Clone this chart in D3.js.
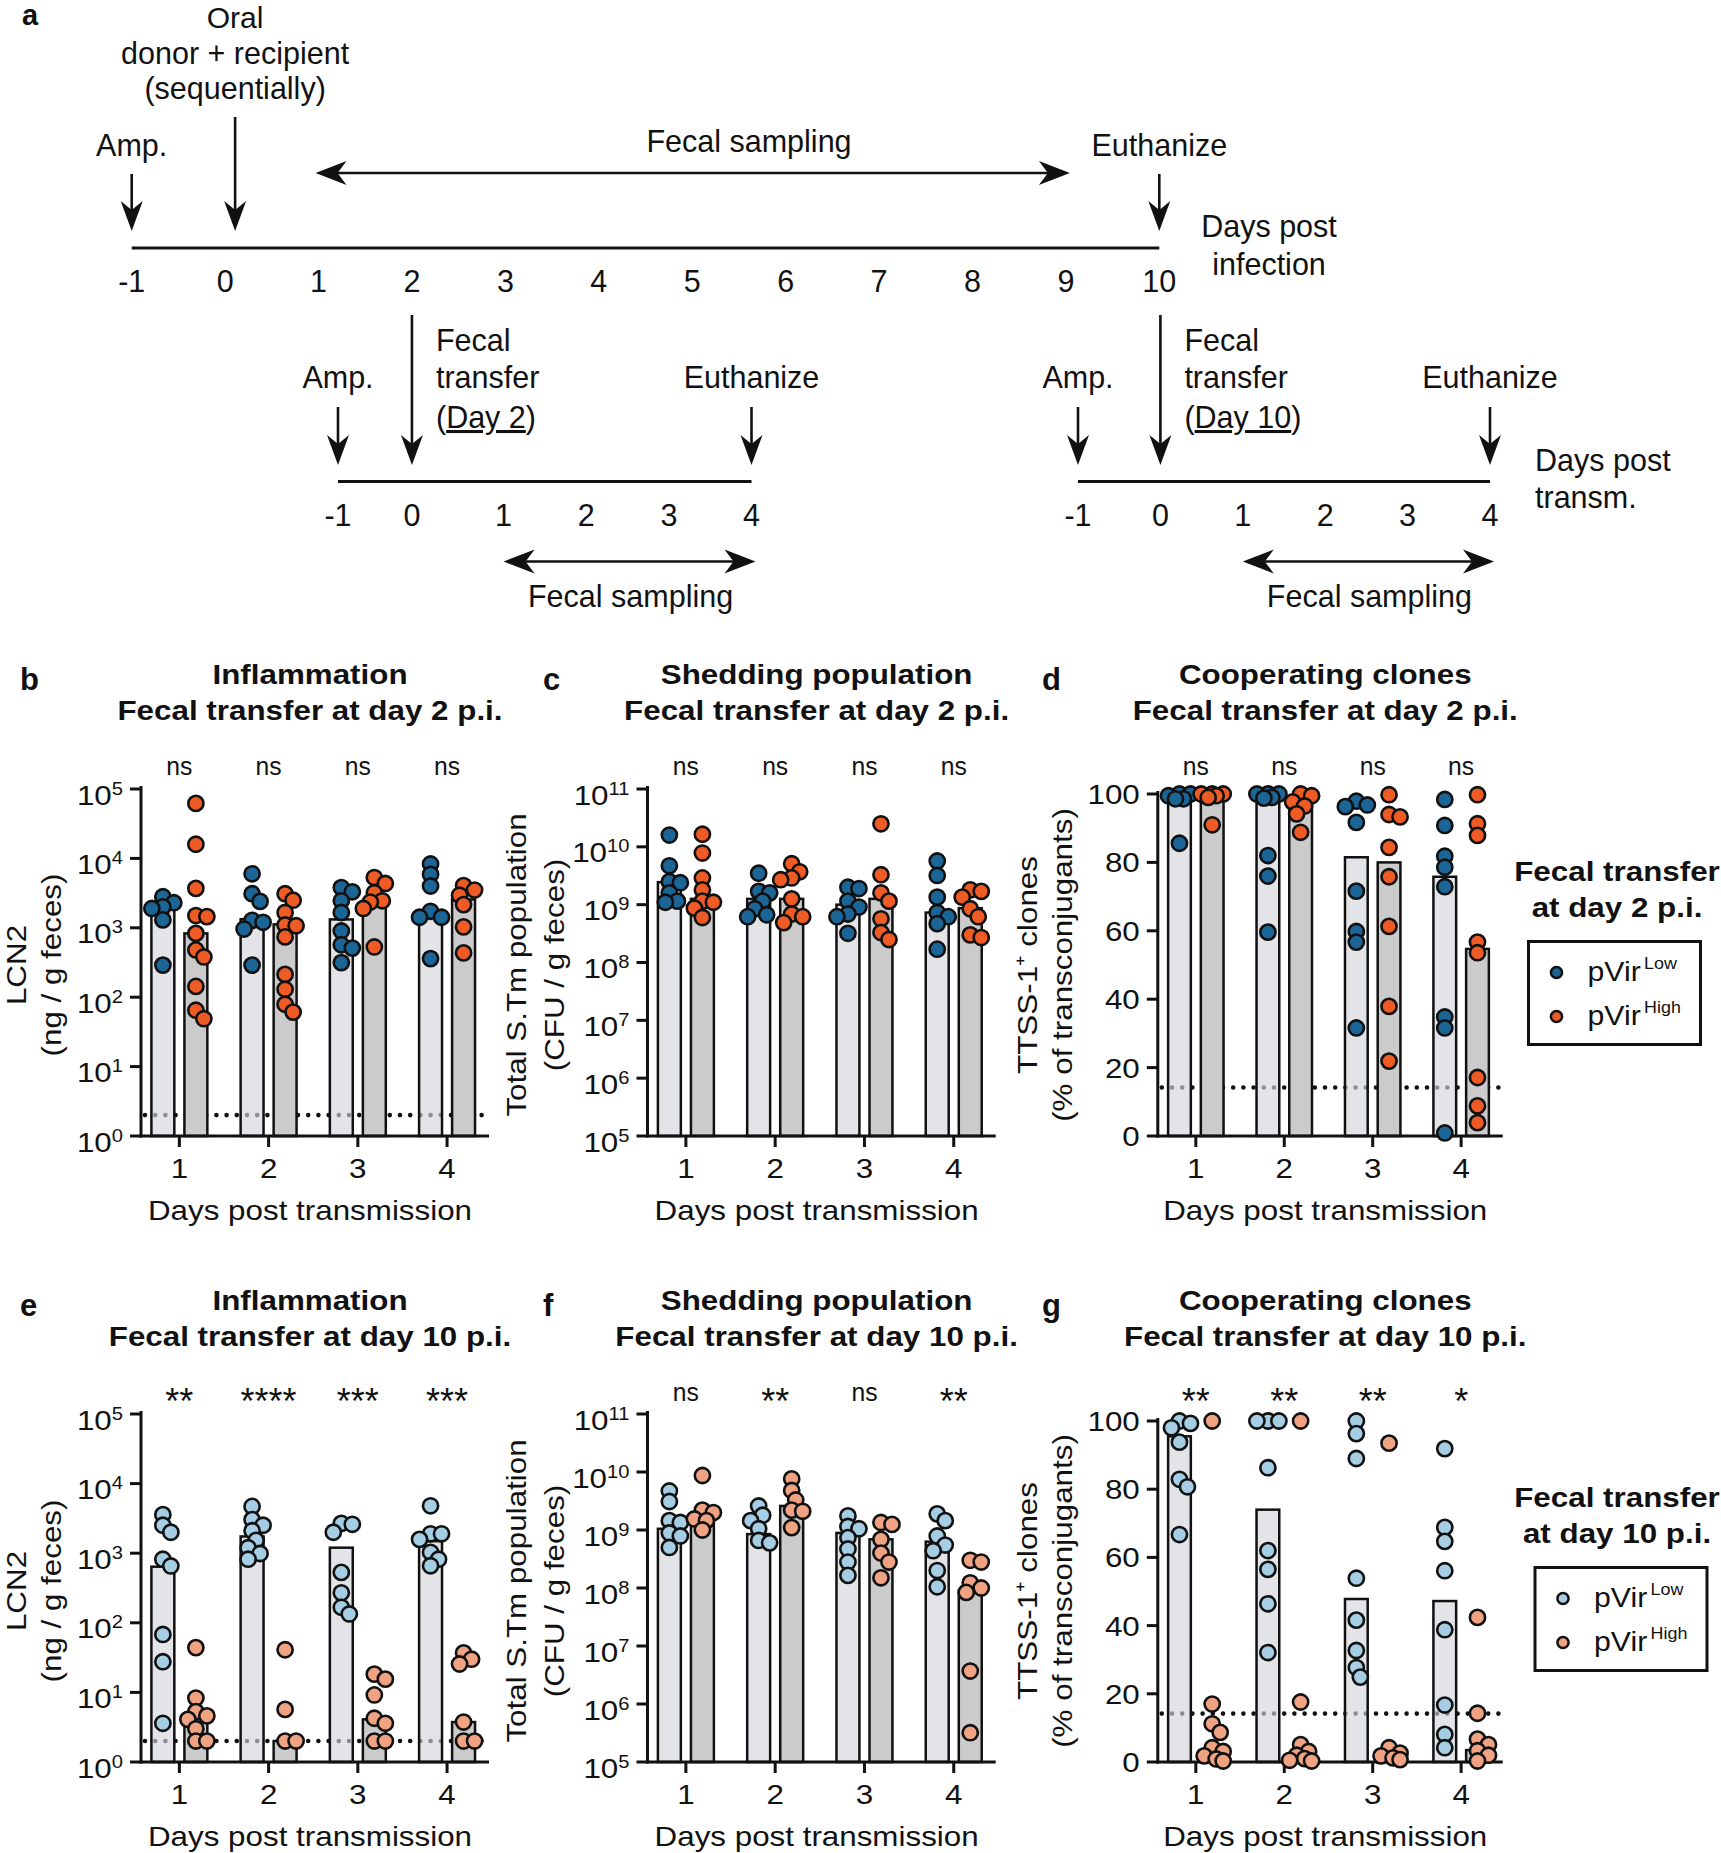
<!DOCTYPE html>
<html>
<head>
<meta charset="utf-8">
<script src="https://cdn.jsdelivr.net/npm/d3@7"></script>
<style>
body { margin: 0; background: #fff; }
text { font-family: "Liberation Sans", Arial, sans-serif; fill: #111; }
</style>
</head>
<body>
<script>
// ---------- data ----------
var days = [1, 2, 3, 4];
var mainDays = [-1, 0, 1, 2, 3, 4, 5, 6, 7, 8, 9, 10];
var subDays = [-1, 0, 1, 2, 3, 4];

// b: LCN2, transfer day 2
var bLow = [[2800, 2300, 2000, 1900, 1300, 290],
            [6000, 3100, 2400, 1280, 1200, 960, 290],
            [3800, 3300, 2450, 1660, 900, 570, 510, 315],
            [8300, 5900, 4000, 1730, 1420, 1420, 360]];
var bHigh = [[62000, 16000, 3700, 1500, 1450, 830, 480, 380, 143, 65, 49],
             [3100, 2500, 1660, 1100, 1070, 740, 213, 130, 79, 61],
             [5300, 4350, 3200, 2450, 2350, 1900, 530],
             [4050, 3500, 2950, 2160, 1030, 435]];
var bLowBar = [2050, 1330, 1320, 1560];
var bHighBar = [830, 1120, 2100, 2560];
var bSig = ["ns", "ns", "ns", "ns"];

// c: CFU, transfer day 2
var cLow = [[1.6e10, 4.7e9, 2.5e9, 2.4e9, 1.6e9, 1.15e9, 1.1e9],
            [3.5e9, 1.7e9, 1.6e9, 1.15e9, 8.5e8, 6.7e8, 6.2e8],
            [2e9, 1.9e9, 1.15e9, 9.1e8, 6.9e8, 6.2e8, 3.2e8],
            [5.7e9, 3.2e9, 1.35e9, 7.3e8, 6.2e8, 4.7e8, 1.7e8]];
var cHigh = [[1.65e10, 7.8e9, 2.9e9, 1.8e9, 1.15e9, 1.1e9, 8.7e8, 6e8],
             [5.1e9, 3.7e9, 2.9e9, 2.7e9, 1.26e9, 6.9e8, 6.2e8, 4.9e8],
             [2.5e10, 3.3e9, 1.6e9, 1.15e9, 5.7e8, 3.3e8, 2.5e8],
             [1.8e9, 1.7e9, 1.35e9, 8.5e8, 6.2e8, 3e8, 2.7e8]];
var cLowBar = [2.45e9, 1.26e9, 1.0e9, 7.3e8];
var cHighBar = [1.26e9, 1.26e9, 1.26e9, 8.7e8];
var cSig = ["ns", "ns", "ns", "ns"];

// d: % TTSS-1+, transfer day 2
var dLow = [[100, 100, 99.5, 98.6, 98.6, 85.6],
            [100, 100, 100, 99, 98.8, 82, 76, 59.6],
            [97.9, 96.8, 96.3, 91.7, 71.6, 59.8, 56.7, 31.6],
            [98.4, 90.8, 81.8, 78.6, 72.9, 34.8, 31.6, 0.9]];
var dHigh = [[100, 100, 100, 99.5, 99, 91],
             [100, 99.5, 97.7, 96.5, 94.2, 88.8],
             [99.8, 94, 93.3, 84.4, 75.8, 61.3, 37.9, 21.9],
             [99.8, 91.3, 87.9, 56.7, 53.6, 17.1, 8.8, 3.9]];
var dLowBar = [99.5, 99.5, 81.5, 75.8];
var dHighBar = [99.5, 97.9, 80, 54.7];
var dSig = ["ns", "ns", "ns", "ns"];

// e: LCN2, transfer day 10
var eLow = [[3580, 2520, 2000, 820, 656, 68, 27.6, 3.6],
            [4700, 3040, 2520, 2100, 1530, 1200, 990, 820],
            [2680, 2600, 2000, 530, 270, 167, 134],
            [4800, 1900, 1900, 1580, 1030, 820, 660]];
var eHigh = [[44, 8.3, 5.3, 4.6, 4.1, 3, 2, 2],
             [41, 5.7, 2, 2],
             [18.3, 15.5, 9.2, 4.25, 3.6, 2, 2],
             [37, 30, 25.6, 3.75, 2, 2]];
var eLowBar = [640, 1740, 1200, 1490];
var eHighBar = [4.1, 2, 4.1, 3.75];
var eSig = ["**", "****", "***", "***"];

// f: CFU, transfer day 10
var fLow = [[4.7e9, 3.1e9, 1.45e9, 1.35e9, 8.9e8, 7.9e8, 5e8],
            [2.6e9, 1.8e9, 1.45e9, 1.05e9, 6.6e8, 6e8],
            [1.75e9, 1.15e9, 1.05e9, 7.4e8, 4.7e8, 2.8e8, 1.65e8],
            [1.9e9, 1.45e9, 7.9e8, 5.5e8, 4.4e8, 2e8, 1.05e8]];
var fHigh = [[8.7e9, 2.2e9, 2e9, 1.55e9, 1.45e9, 1e9],
             [7.6e9, 4.8e9, 3.3e9, 2.2e9, 2.1e9, 1.1e9],
             [1.35e9, 1.25e9, 6.9e8, 4e8, 2.8e8, 1.5e8],
             [3e8, 2.8e8, 1.23e8, 1e8, 8.4e7, 3.7e6, 3.2e5]];
var fLowBar = [1.05e9, 8.5e8, 8.9e8, 6.3e8];
var fHighBar = [1.55e9, 2.6e9, 6.9e8, 9e7];
var fSig = ["ns", "**", "ns", "**"];

// g: % TTSS-1+, transfer day 10
var gLow = [[100, 99.3, 98, 93.8, 82.9, 80.7, 66.7],
            [100, 100, 100, 86.3, 62, 56.5, 46.4, 32.1],
            [100, 96.3, 89, 53.9, 41.6, 32.7, 27.7, 24.9],
            [91.9, 68.8, 64.7, 56.1, 38.8, 16.7, 8.1, 4.2]];
var gHigh = [[100, 17, 11.2, 8.7, 4.2, 3.1, 1.8, 0.9, 0.3],
             [100, 17.6, 5.1, 3.1, 2, 1, 0.5, 0.3],
             [93.5, 4.2, 2.6, 1.8, 1.2, 0.7],
             [42.4, 14.3, 6.7, 5.1, 3.3, 2, 0.3]];
var gLowBar = [95.5, 74, 47.8, 47.2];
var gHighBar = [1.5, 1.5, 1.5, 3.5];
var gSig = ["**", "**", "**", "*"];

var lodLCN2 = 2;
var lodClones = 14.2;

// ---------- setup ----------
var W = 1721, H = 1853;
var ink = "#111";
var svg = d3.select("body").append("svg").attr("width", W).attr("height", H);
svg.append("rect").attr("width", W).attr("height", H).attr("fill", "#fff");

function label(g, x, y, str, o) {
  o = o || {};
  return g.append("text")
    .attr("transform", "translate(" + x + "," + y + ")" + (o.rot ? " rotate(" + o.rot + ")" : "") + " scale(" + (o.sx || 1) + ",1)")
    .attr("text-anchor", o.anchor || "middle")
    .attr("font-size", o.size || 28)
    .attr("font-weight", o.bold ? "bold" : null)
    .text(str);
}

// ---------- panel a: timeline ----------
var gA = svg.append("g");
var TF = 30.5;

function arrowDown(x, y1, y2) {
  gA.append("line").attr("x1", x).attr("x2", x).attr("y1", y1).attr("y2", y2 - 14)
    .attr("stroke", ink).attr("stroke-width", 2.6);
  gA.append("path")
    .attr("d", "M" + x + "," + y2 + "L" + (x - 11) + "," + (y2 - 30) + "L" + x + "," + (y2 - 21) + "L" + (x + 11) + "," + (y2 - 30) + "Z")
    .attr("fill", ink);
}
function arrowBoth(x1, x2, y) {
  gA.append("line").attr("x1", x1 + 14).attr("x2", x2 - 14).attr("y1", y).attr("y2", y)
    .attr("stroke", ink).attr("stroke-width", 2.6);
  gA.append("path")
    .attr("d", "M" + x1 + "," + y + "L" + (x1 + 31) + "," + (y - 12) + "L" + (x1 + 22) + "," + y + "L" + (x1 + 31) + "," + (y + 12) + "Z")
    .attr("fill", ink);
  gA.append("path")
    .attr("d", "M" + x2 + "," + y + "L" + (x2 - 31) + "," + (y - 12) + "L" + (x2 - 22) + "," + y + "L" + (x2 - 31) + "," + (y + 12) + "Z")
    .attr("fill", ink);
}

label(gA, 22, 25, "a", {anchor: "start", size: 29, bold: true});

var tMain = d3.scaleLinear().domain([-1, 10]).range([131.7, 1159.3]);
gA.append("line").attr("x1", tMain(-1)).attr("x2", tMain(10)).attr("y1", 248).attr("y2", 248)
  .attr("stroke", ink).attr("stroke-width", 3);
mainDays.forEach(function(d) { label(gA, tMain(d), 292, d, {size: TF}); });

arrowDown(tMain(-1), 174, 231);
arrowDown(tMain(0) + 10, 117, 231);
arrowDown(tMain(10), 174, 231);
arrowBoth(tMain(1) - 3, tMain(9) + 4, 173);

label(gA, tMain(0) + 10, 28, "Oral", {size: 30});
label(gA, tMain(0) + 10, 63.5, "donor + recipient", {size: TF});
label(gA, tMain(0) + 10, 99, "(sequentially)", {size: TF});
label(gA, tMain(-1), 156, "Amp.", {size: TF});
label(gA, 749, 152, "Fecal sampling", {size: TF});
label(gA, tMain(10), 156, "Euthanize", {size: TF});
label(gA, 1269, 237, "Days post", {size: TF});
label(gA, 1269, 275, "infection", {size: TF});

var subs = [
  {s: d3.scaleLinear().domain([-1, 0, 1, 4]).range([338, tMain(2), 503.6, 751.5]), day: "Day 2"},
  {s: d3.scaleLinear().domain([-1, 4]).range([1078, 1490]), day: "Day 10"}
];
subs.forEach(function(sb, k) {
  var s = sb.s;
  gA.append("line").attr("x1", s(-1)).attr("x2", s(4)).attr("y1", 481.6).attr("y2", 481.6)
    .attr("stroke", ink).attr("stroke-width", 3);
  subDays.forEach(function(d) { label(gA, s(d), 526, d, {size: TF}); });
  arrowDown(s(-1), 407, 465);
  arrowDown(s(0), 315, 465);
  arrowDown(s(4), 407, 465);
  arrowBoth(s(1), s(4) + 4, 561.5);
  label(gA, s(-1), 388, "Amp.", {size: TF});
  label(gA, s(4), 388, "Euthanize", {size: TF});
  label(gA, s(0) + 24, 351, "Fecal", {size: TF, anchor: "start"});
  label(gA, s(0) + 24, 388, "transfer", {size: TF, anchor: "start"});
  var t = label(gA, s(0) + 24, 428, "(", {size: TF, anchor: "start"});
  t.append("tspan").attr("text-decoration", "underline").text(sb.day);
  t.append("tspan").text(")");
  label(gA, (s(1) + s(4)) / 2 + 3, 607, "Fecal sampling", {size: TF});
  if (k === 1) {
    label(gA, 1535, 470.5, "Days post", {size: TF, anchor: "start"});
    label(gA, 1535, 508, "transm.", {size: TF, anchor: "start"});
  }
});

// ---------- chart panels ----------
var rowBot = [1136, 1762];
var rowTopLog = [789, 1414];
var rowTopLin = [794, 1421];
var SX = 1.12;

var colTop = {low: "#1c6597", high: "#ef5b25"};
var colBot = {low: "#a5cde3", high: "#efa383"};

var panels = [
  {letter: "b", row: 0, x0: 141, x1: 489, kind: "log", exps: [0, 5], low: bLow, high: bHigh, lowBar: bLowBar, highBar: bHighBar, sig: bSig, lod: lodLCN2,
   title: ["Inflammation", "Fecal transfer at day 2 p.i."], ylab: ["LCN2", "(ng / g feces)"], labOff: [115, 80], col: colTop},
  {letter: "c", row: 0, x0: 647.5, x1: 995.7, kind: "log", exps: [5, 11], low: cLow, high: cHigh, lowBar: cLowBar, highBar: cHighBar, sig: cSig, lod: null,
   title: ["Shedding population", "Fecal transfer at day 2 p.i."], ylab: ["Total S.Tm population", "(CFU / g feces)"], labOff: [122, 84], col: colTop},
  {letter: "d", row: 0, x0: 1157.8, x1: 1502.7, kind: "lin", low: dLow, high: dHigh, lowBar: dLowBar, highBar: dHighBar, sig: dSig, lod: lodClones,
   title: ["Cooperating clones", "Fecal transfer at day 2 p.i."], ylab: ["TTSS-1\u207A clones", "(% of transconjugants)"], labOff: [121, 86], col: colTop,
   legend: {x: 1528.5, title: "at day 2 p.i."}},
  {letter: "e", row: 1, x0: 141, x1: 489, kind: "log", exps: [0, 5], low: eLow, high: eHigh, lowBar: eLowBar, highBar: eHighBar, sig: eSig, lod: lodLCN2,
   title: ["Inflammation", "Fecal transfer at day 10 p.i."], ylab: ["LCN2", "(ng / g feces)"], labOff: [115, 80], col: colBot},
  {letter: "f", row: 1, x0: 647.5, x1: 995.7, kind: "log", exps: [5, 11], low: fLow, high: fHigh, lowBar: fLowBar, highBar: fHighBar, sig: fSig, lod: null,
   title: ["Shedding population", "Fecal transfer at day 10 p.i."], ylab: ["Total S.Tm population", "(CFU / g feces)"], labOff: [122, 84], col: colBot},
  {letter: "g", row: 1, x0: 1157.8, x1: 1502.7, kind: "lin", low: gLow, high: gHigh, lowBar: gLowBar, highBar: gHighBar, sig: gSig, lod: lodClones,
   title: ["Cooperating clones", "Fecal transfer at day 10 p.i."], ylab: ["TTSS-1\u207A clones", "(% of transconjugants)"], labOff: [121, 86], col: colBot,
   legend: {x: 1535, title: "at day 10 p.i."}}
];
var letterX = {b: 20, e: 20, c: 543, f: 543, d: 1042, g: 1042};

var R = 7.6;

// simple beeswarm: nudge overlapping dots sideways, keep them tight
function swarm(ys, cx) {
  var offs = [0, 4, -4, 8, -8, 11, -11];
  var placed = [];
  var order = ys.map(function(y, i) { return i; }).sort(function(a, b) { return ys[a] - ys[b]; });
  var xs = [];
  order.forEach(function(i) {
    var best = offs[0], bestD = -1;
    for (var k = 0; k < offs.length; k++) {
      var px = cx + offs[k], md = Infinity;
      placed.forEach(function(p) { md = Math.min(md, Math.hypot(p[0] - px, p[1] - ys[i])); });
      if (md >= 10) { best = offs[k]; bestD = md; break; }
      if (md > bestD) { bestD = md; best = offs[k]; }
    }
    xs[i] = cx + best;
    placed.push([cx + best, ys[i]]);
  });
  return xs;
}

panels.forEach(function(p) {
  var g = svg.append("g");
  var bot = rowBot[p.row];
  var y;
  if (p.kind === "log") {
    y = d3.scaleLog().domain([Math.pow(10, p.exps[0]), Math.pow(10, p.exps[1])]).range([bot, rowTopLog[p.row]]);
  } else {
    y = d3.scaleLinear().domain([0, 100]).range([bot, rowTopLin[p.row]]);
  }
  var x = d3.scaleLinear().domain([0.57, 4.47]).range([p.x0, p.x1]);
  var unit = x(1) - x(0);
  var off = 0.185 * unit, bw = 0.257 * unit;
  var top = y.range()[1];

  // detection limit
  if (p.lod !== null) {
    g.append("line").attr("x1", p.x0 + 4).attr("x2", p.x1 - 3).attr("y1", y(p.lod)).attr("y2", y(p.lod))
      .attr("stroke", ink).attr("stroke-width", 4.6).attr("stroke-linecap", "round")
      .attr("stroke-dasharray", "0,10.2");
  }

  // bars
  g.selectAll(".barL").data(days).enter().append("rect")
    .attr("x", function(d) { return x(d) - off - bw / 2; })
    .attr("width", bw)
    .attr("y", function(d, i) { return y(p.lowBar[i]); })
    .attr("height", function(d, i) { return bot - y(p.lowBar[i]); })
    .attr("fill", "#d3d5d9").attr("fill-opacity", 0.64)
    .attr("stroke", ink).attr("stroke-width", 2.5);
  g.selectAll(".barH").data(days).enter().append("rect")
    .attr("x", function(d) { return x(d) + off - bw / 2; })
    .attr("width", bw)
    .attr("y", function(d, i) { return y(p.highBar[i]); })
    .attr("height", function(d, i) { return bot - y(p.highBar[i]); })
    .attr("fill", "#cbcbcb")
    .attr("stroke", ink).attr("stroke-width", 2.5);

  // axes
  g.append("line").attr("x1", p.x0).attr("x2", p.x0).attr("y1", top - 3).attr("y2", bot + 1.5)
    .attr("stroke", ink).attr("stroke-width", 3);
  g.append("line").attr("x1", p.x0 - 1.5).attr("x2", p.x1).attr("y1", bot).attr("y2", bot)
    .attr("stroke", ink).attr("stroke-width", 3);

  var ticks = p.kind === "log" ? d3.range(p.exps[0], p.exps[1] + 1).map(function(e) { return Math.pow(10, e); }) : [0, 20, 40, 60, 80, 100];
  ticks.forEach(function(v) {
    g.append("line").attr("x1", p.x0 - 11).attr("x2", p.x0).attr("y1", y(v)).attr("y2", y(v))
      .attr("stroke", ink).attr("stroke-width", 3);
    if (p.kind === "log") {
      var t = label(g, p.x0 - 18, y(v) + 15.5, "10", {anchor: "end", sx: SX});
      t.append("tspan").attr("font-size", 18).attr("dy", -10).text(Math.round(Math.log10(v)));
    } else {
      label(g, p.x0 - 18, y(v) + 10, v, {anchor: "end", sx: SX});
    }
  });
  days.forEach(function(d, i) {
    g.append("line").attr("x1", x(d)).attr("x2", x(d)).attr("y1", bot).attr("y2", bot + 11)
      .attr("stroke", ink).attr("stroke-width", 3);
    label(g, x(d), bot + 42, d, {sx: SX});
    if (p.sig[i] === "ns") {
      label(g, x(d), bot - 361, "ns", {size: 26, sx: 0.95});
    } else {
      label(g, x(d), bot - 348, p.sig[i], {size: 36});
    }
  });

  // dots
  [["low", p.low, -off], ["high", p.high, off]].forEach(function(s) {
    s[1].forEach(function(vals, i) {
      var ys = vals.map(function(v) { return y(v); });
      var xs = swarm(ys, x(days[i]) + s[2]);
      g.selectAll(null).data(vals).enter().append("circle")
        .attr("cx", function(v, j) { return xs[j]; })
        .attr("cy", function(v, j) { return ys[j]; })
        .attr("r", R)
        .attr("fill", p.col[s[0]])
        .attr("stroke", ink).attr("stroke-width", 2.6);
    });
  });

  // texts
  var cx = (p.x0 + p.x1) / 2 - 5;
  label(g, cx, bot - 452.5, p.title[0], {bold: true, sx: SX});
  label(g, cx, bot - 416.5, p.title[1], {bold: true, sx: SX});
  label(g, cx, bot + 83.5, "Days post transmission", {sx: SX});
  label(g, letterX[p.letter], bot - 446.5, p.letter, {anchor: "start", size: 31, bold: true});
  label(g, p.x0 - p.labOff[0], bot - 171, p.ylab[0], {rot: -90, sx: SX});
  label(g, p.x0 - p.labOff[1], bot - 171, p.ylab[1], {rot: -90, sx: SX});

  // legend
  if (p.legend) {
    var L = p.legend;
    label(g, 1617, bot - 255, "Fecal transfer", {bold: true, sx: SX});
    label(g, 1617, bot - 219, L.title, {bold: true, sx: SX});
    var by = bot - 194.5;
    g.append("rect").attr("x", L.x).attr("y", by).attr("width", 172).attr("height", 103)
      .attr("fill", "none").attr("stroke", ink).attr("stroke-width", 3);
    [["low", "Low", 31], ["high", "High", 75]].forEach(function(e) {
      g.append("circle").attr("cx", L.x + 28).attr("cy", by + e[2]).attr("r", 5.6)
        .attr("fill", p.col[e[0]]).attr("stroke", ink).attr("stroke-width", 2.5);
      var t = label(g, L.x + 59, by + e[2] + 8, "pVir", {anchor: "start", size: 27, sx: SX});
      t.append("tspan").attr("font-size", 16).attr("dx", 3).attr("dy", -12).text(e[1]);
    });
  }
});
</script>
</body>
</html>
